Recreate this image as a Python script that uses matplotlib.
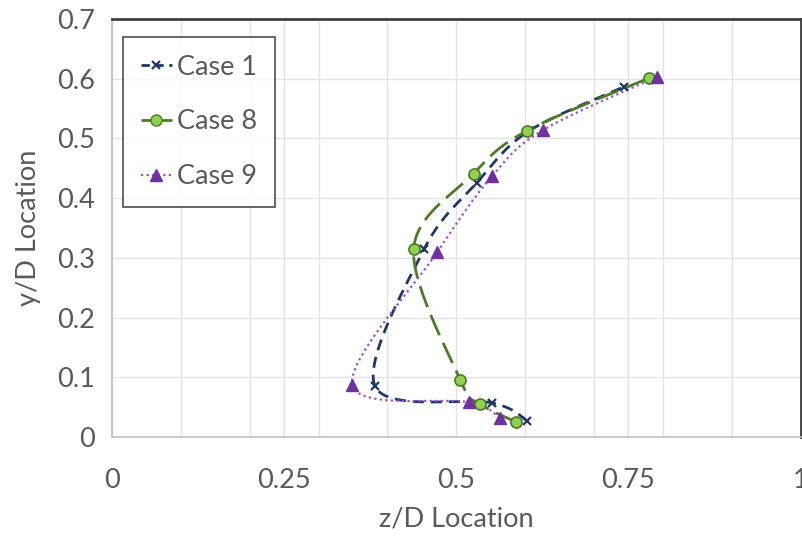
import numpy as np
import matplotlib
matplotlib.use("Agg")
import matplotlib.pyplot as plt

plt.rcParams['font.family'] = ['Lato', 'DejaVu Sans']

# data (z/D, y/D)
case1_z = [0.603, 0.552, 0.382, 0.453, 0.530, 0.605, 0.743]
case1_y = [0.027, 0.057, 0.085, 0.314, 0.426, 0.512, 0.586]
case8_z = [0.587, 0.535, 0.506, 0.438, 0.525, 0.603, 0.780]
case8_y = [0.025, 0.055, 0.095, 0.314, 0.441, 0.513, 0.601]
case9_z = [0.563, 0.519, 0.349, 0.472, 0.552, 0.626, 0.791]
case9_y = [0.032, 0.058, 0.087, 0.309, 0.437, 0.514, 0.603]

x_ticks = [0, 0.25, 0.5, 0.75, 1]
x_labels = ['0', '0.25', '0.5', '0.75', '1']
y_ticks = [0, 0.1, 0.2, 0.3, 0.4, 0.5, 0.6, 0.7]
y_labels = ['0', '0.1', '0.2', '0.3', '0.4', '0.5', '0.6', '0.7']


def smooth(xs, ys, n=30):
    # Excel-like smoothing: Catmull-Rom through the points
    p = np.column_stack([xs, ys]).astype(float)
    p = np.vstack([p[0], p, p[-1]])
    out = []
    t = np.linspace(0, 1, n)[:, None]
    for i in range(1, len(p) - 2):
        p0, p1, p2, p3 = p[i - 1], p[i], p[i + 1], p[i + 2]
        c1 = p1 + (p2 - p0) / 6
        c2 = p2 - (p3 - p1) / 6
        seg = ((1 - t) ** 3 * p1 + 3 * (1 - t) ** 2 * t * c1
               + 3 * (1 - t) * t ** 2 * c2 + t ** 3 * p2)
        out.append(seg if i == 1 else seg[1:])
    out = np.vstack(out)
    return out[:, 0], out[:, 1]


fig = plt.figure(figsize=(8.03, 5.36), dpi=100)
ax = fig.add_axes([0.1395, 0.1847, 0.8575, 0.78])

navy = '#1F3864'
olive = '#4E7A28'
purple = '#7030A0'

sx, sy = smooth(case1_z, case1_y)
ax.plot(sx, sy, color=navy, lw=2, dashes=(4, 2.5), zorder=3)
ax.plot(case1_z, case1_y, ls='none', marker='x', color=navy, ms=6, mew=1.6, zorder=4)

sx, sy = smooth(case8_z, case8_y)
ax.plot(sx, sy, color=olive, lw=2, dashes=(8, 3), zorder=3)
ax.plot(case8_z, case8_y, ls='none', marker='o', mfc='#92D050', mec=olive, ms=8, mew=1.2, zorder=4)

sx, sy = smooth(case9_z, case9_y)
ax.plot(sx, sy, color='#9A4FD0', lw=1.6, dashes=(1, 1.5), zorder=3)
ax.plot(case9_z, case9_y, ls='none', marker='^', color=purple, ms=8, zorder=4)

# legend proxies
h1, = ax.plot([], [], color=navy, lw=2, dashes=(3, 2), marker='x', ms=6, mew=1.6)
h8, = ax.plot([], [], color=olive, lw=2, dashes=(5, 2), marker='o', mfc='#92D050', mec=olive, ms=8)
h9, = ax.plot([], [], color='#9A4FD0', lw=1.6, dashes=(1, 1.5), marker='^', mfc=purple, mec=purple, ms=8)
leg = ax.legend([h1, h8, h9], ['Case 1', 'Case 8', 'Case 9'], loc='upper left',
                bbox_to_anchor=(0.016, 0.957), borderaxespad=0, fontsize=19.5,
                frameon=True, fancybox=False,
                handlelength=1.15, handletextpad=0.2, labelspacing=1.1, borderpad=0.65,
                labelcolor='#595959')
leg.get_frame().set_edgecolor('#333333')
leg.get_frame().set_linewidth(1.3)

ax.set_xlim(0, 1)
ax.set_ylim(0, 0.7)
ax.set_xticks(x_ticks)
ax.set_xticklabels(x_labels)
ax.set_xticks(np.arange(0.1, 1.0, 0.1), minor=True)
ax.set_yticks(y_ticks)
ax.set_yticklabels(y_labels)
ax.grid(True, which='both', color='#E3E3E3', lw=1, zorder=0)
ax.set_axisbelow(True)
ax.tick_params(which='both', length=0, labelsize=19.5, labelcolor='#595959', pad=12)
ax.tick_params(axis='x', pad=22)

for s in ['left', 'bottom']:
    ax.spines[s].set_color('#BFBFBF')
    ax.spines[s].set_linewidth(1.2)
for s in ['top', 'right']:
    ax.spines[s].set_color('#404040')
    ax.spines[s].set_linewidth(2)

ax.set_xlabel('z/D Location', fontsize=19.5, color='#595959', labelpad=10)
ax.set_ylabel('y/D Location', fontsize=19.5, color='#595959', labelpad=12)

fig.savefig('out.png', dpi=100)
